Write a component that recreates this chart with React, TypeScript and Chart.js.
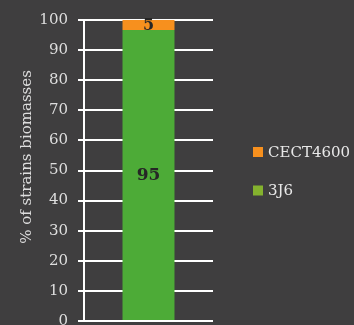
import React, { useEffect, useRef } from 'react';
import { Chart, registerables } from 'chart.js';

Chart.register(...registerables);

// ---- data ----
const categories = ['Strains'];
const seriesNames = ['3J6', 'CECT4600'];
const values3J6 = [96.7];
const valuesCECT4600 = [3.3];
const labels3J6 = ['95'];
const labelsCECT4600 = ['5'];
const yMin = 0;
const yMax = 100;
const yStep = 10;
const yTitle = '% of strains biomasses';

// ---- styles ----
const BG = '#3f3e3f';
const TEXT = '#dedede';
const FONT = 'DejaVu Serif';
const barColors = ['#4dab37', '#f7901e'];
const legendColors = ['#84b22e', '#f7901e'];

const overlayPlugin = {
  id: 'overlay',
  afterDatasetsDraw(chart: any) {
    const ctx = chart.ctx;
    const labelSets = [labels3J6, labelsCECT4600];
    ctx.save();
    ctx.fillStyle = '#262626';
    ctx.textAlign = 'center';
    ctx.textBaseline = 'middle';
    chart.data.datasets.forEach((ds: any, di: number) => {
      const meta = chart.getDatasetMeta(di);
      ctx.font = di === 0 ? `bold 17px "${FONT}"` : `bold 16px "${FONT}"`;
      meta.data.forEach((el: any, i: number) => {
        const y = (el.y + el.base) / 2;
        ctx.fillText(labelSets[di][i], el.x, y + 1);
      });
    });
    ctx.restore();
  },
  afterDraw(chart: any) {
    const ctx = chart.ctx;
    ctx.save();
    // axis title
    ctx.fillStyle = TEXT;
    ctx.font = `15px "${FONT}"`;
    ctx.textAlign = 'center';
    ctx.textBaseline = 'middle';
    ctx.translate(27, 157);
    ctx.rotate(-Math.PI / 2);
    ctx.fillText(yTitle, 0, 0);
    ctx.restore();

    // legend (reverse order: top series first)
    ctx.save();
    ctx.font = `15px "${FONT}"`;
    ctx.textAlign = 'left';
    ctx.textBaseline = 'middle';
    const items = chart.data.datasets.map((ds: any, i: number) => ({ label: ds.label, color: legendColors[i] })).reverse();
    items.forEach((it: any, k: number) => {
      const cy = 152 + k * 38.5;
      ctx.fillStyle = it.color;
      ctx.fillRect(253, cy - 5, 10, 10);
      ctx.fillStyle = '#e8e8e8';
      ctx.fillText(it.label, 268, cy + 1);
    });
    ctx.restore();
  },
};

export default function App() {
  const ref = useRef<HTMLCanvasElement>(null);

  useEffect(() => {
    document.body.style.margin = '0';
    document.body.style.background = BG;
    const chart = new Chart(ref.current!, {
      type: 'bar',
      data: {
        labels: categories,
        datasets: [
          { label: seriesNames[0], data: values3J6, backgroundColor: barColors[0], borderWidth: 0 },
          { label: seriesNames[1], data: valuesCECT4600, backgroundColor: barColors[1], borderWidth: 0 },
        ],
      },
      options: {
        animation: false,
        responsive: false,
        maintainAspectRatio: false,
        layout: { padding: { top: 20, right: 141, bottom: 4, left: 0 } },
        plugins: { legend: { display: false }, tooltip: { enabled: false } },
        datasets: { bar: { categoryPercentage: 0.403, barPercentage: 1 } } as any,
        scales: {
          x: { stacked: true, display: false },
          y: {
            stacked: true,
            min: yMin,
            max: yMax,
            ticks: { stepSize: yStep, color: TEXT, font: { family: FONT, size: 15 }, padding: 10 },
            grid: { color: '#ffffff', lineWidth: 2, tickLength: 6, drawTicks: true },
            border: { display: true, color: '#ffffff', width: 2 },
            afterFit: (s: any) => {
              s.width = 84;
              s.paddingTop = 0;
              s.paddingBottom = 0;
            },
          },
        },
      },
      plugins: [overlayPlugin],
    });
    return () => chart.destroy();
  }, []);

  return (
    <div style={{ position: 'fixed', left: 0, top: 0, width: 354, height: 325, background: BG }}>
      <canvas ref={ref} width={354} height={325} style={{ display: 'block' }} />
    </div>
  );
}
